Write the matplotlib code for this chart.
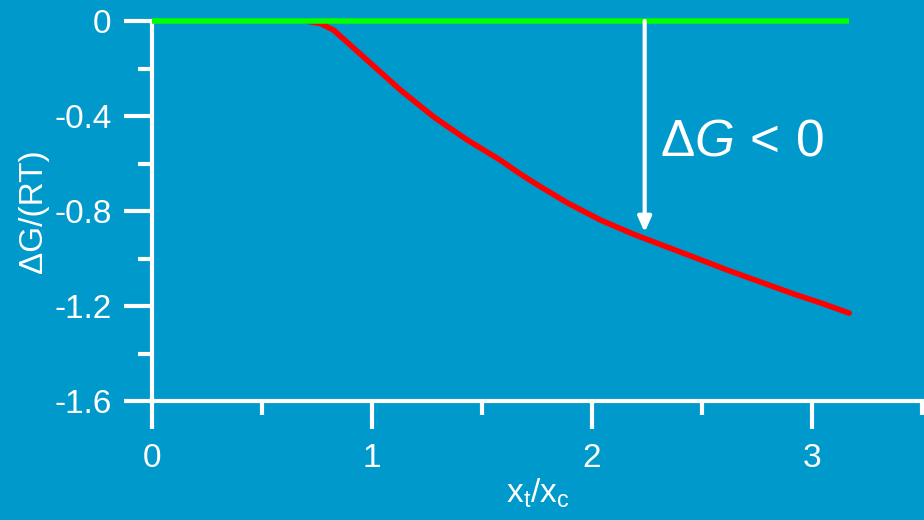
import matplotlib
matplotlib.use('Agg')
import matplotlib.pyplot as plt
from matplotlib.ticker import MultipleLocator

plt.rcParams['font.family'] = ['Liberation Sans', 'DejaVu Sans']
plt.rcParams['mathtext.fontset'] = 'custom'
plt.rcParams['mathtext.rm'] = 'Liberation Sans'
plt.rcParams['mathtext.it'] = 'Liberation Sans:italic'

bg = '#0099cc'

x_red = [0.70, 0.765, 0.825, 0.90, 0.977, 1.053, 1.129, 1.205, 1.28, 1.356, 1.432,
         1.508, 1.584, 1.66, 1.735, 1.887, 2.039, 2.19, 2.343, 2.48, 2.62, 2.77, 2.92, 3.05, 3.17]
y_red = [0.0, -0.01, -0.038, -0.10, -0.164, -0.227, -0.29, -0.347, -0.403, -0.452, -0.50,
         -0.543, -0.586, -0.635, -0.680, -0.765, -0.838, -0.898, -0.952, -1.0, -1.05, -1.10, -1.15, -1.19, -1.23]
x_green = [0.0, 3.17]
y_green = [0.0, 0.0]
y_ticks = [-1.6, -1.2, -0.8, -0.4, 0.0]
y_labels = ['-1.6', '-1.2', '-0.8', '-0.4', '0']
x_ticks = [0, 1, 2, 3]
arrow_x = 2.24
arrow_y0 = 0.0
arrow_y1 = -0.89

fig = plt.figure(figsize=(9.24, 5.2), dpi=100, facecolor=bg)
ax = fig.add_axes([152 / 924, 119 / 520, 772 / 924, 380 / 520])
ax.set_facecolor(bg)

# red first so its start sits under the green
ax.plot(x_red, y_red, color='#ff0000', lw=4, solid_capstyle='round',
        solid_joinstyle='round', clip_on=False, zorder=3)
ax.plot(x_green, y_green, color='#00ff00', lw=4, solid_capstyle='butt', clip_on=False, zorder=4)

ax.annotate('', xy=(arrow_x, arrow_y1), xytext=(arrow_x, arrow_y0),
            arrowprops=dict(arrowstyle='-|>,head_length=0.9,head_width=0.4',
                            color='white', lw=3, shrinkA=0, shrinkB=0), zorder=5)
ax.text(2.31, -0.565, r'$\Delta G\,<\,0$', color='white', fontsize=37,
        ha='left', va='baseline')

ax.set_xlim(0, 3.51)
ax.set_ylim(-1.6, 0)

for s in ['top', 'right']:
    ax.spines[s].set_visible(False)
for s in ['left', 'bottom']:
    ax.spines[s].set_color('white')
    ax.spines[s].set_linewidth(3)
    ax.spines[s].set_capstyle('round')

ax.set_yticks(y_ticks)
ax.set_yticklabels(y_labels)
ax.set_xticks(x_ticks)
ax.set_xticklabels([str(v) for v in x_ticks])
ax.xaxis.set_minor_locator(MultipleLocator(0.5))
ax.yaxis.set_minor_locator(MultipleLocator(0.2))

ax.tick_params(which='major', direction='out', length=20, width=3, color='white',
               labelcolor='white', labelsize=24)
ax.tick_params(axis='y', which='major', pad=9)
ax.tick_params(axis='x', which='major', pad=10)
ax.tick_params(which='minor', direction='out', length=10, width=3, color='white')

ax.set_ylabel('ΔG/(RT)', color='white', fontsize=24, labelpad=4)
ax.set_xlabel(r'x$_\mathrm{t}$/x$_\mathrm{c}$', color='white', fontsize=24, labelpad=2)

fig.savefig('out.png', dpi=100, facecolor=bg)
